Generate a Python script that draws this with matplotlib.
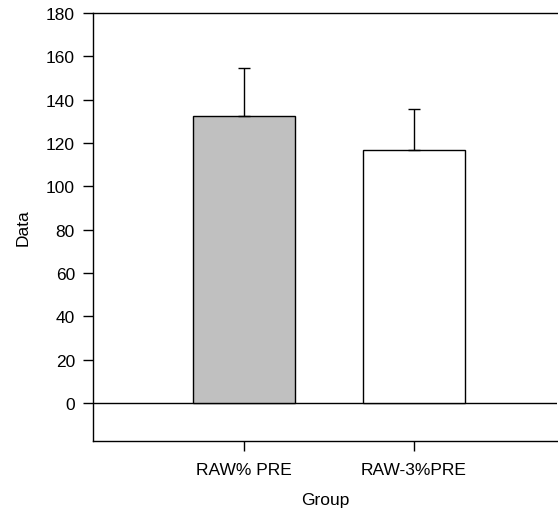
import matplotlib
matplotlib.use("Agg")
import matplotlib.pyplot as plt

plt.rcParams['font.family'] = ['Liberation Sans', 'DejaVu Sans']

categories = ["RAW% PRE", "RAW-3%PRE"]
values = [132.3, 116.8]
errors = [22.1, 18.7]
colors = ["#c0c0c0", "#ffffff"]
yticks = [0, 20, 40, 60, 80, 100, 120, 140, 160, 180]

fig = plt.figure(figsize=(5.58, 5.10), dpi=100)
ax = fig.add_axes([93/558, 1-442/510, (557-93)/558, (442-14)/510])

x = [1, 2]
ax.bar(x, values, width=0.6, color=colors, edgecolor="black", linewidth=1.0, zorder=2)
ax.errorbar(x, values, yerr=[[0, 0], errors], fmt="none", ecolor="black",
            elinewidth=1.0, capsize=4, capthick=1.0, zorder=3)
ax.axhline(0, color="black", linewidth=1.0, zorder=1)

ax.set_xlim(0.112, 2.841)
ax.set_ylim(-17.6, 180)
ax.set_yticks(yticks)
ax.set_xticks(x)
ax.set_xticklabels(categories)
ax.tick_params(axis="both", direction="out", length=7, width=1.0, labelsize=12.5)
ax.tick_params(axis="y", pad=6)
ax.tick_params(axis="x", pad=8)
ax.spines["right"].set_visible(False)
for s in ["left", "bottom", "top"]:
    ax.spines[s].set_linewidth(1.0)
ax.set_xlabel("Group", fontsize=12.5, labelpad=11)
ax.set_ylabel("Data", fontsize=12.5, labelpad=11)

fig.savefig("out.png", dpi=100)
